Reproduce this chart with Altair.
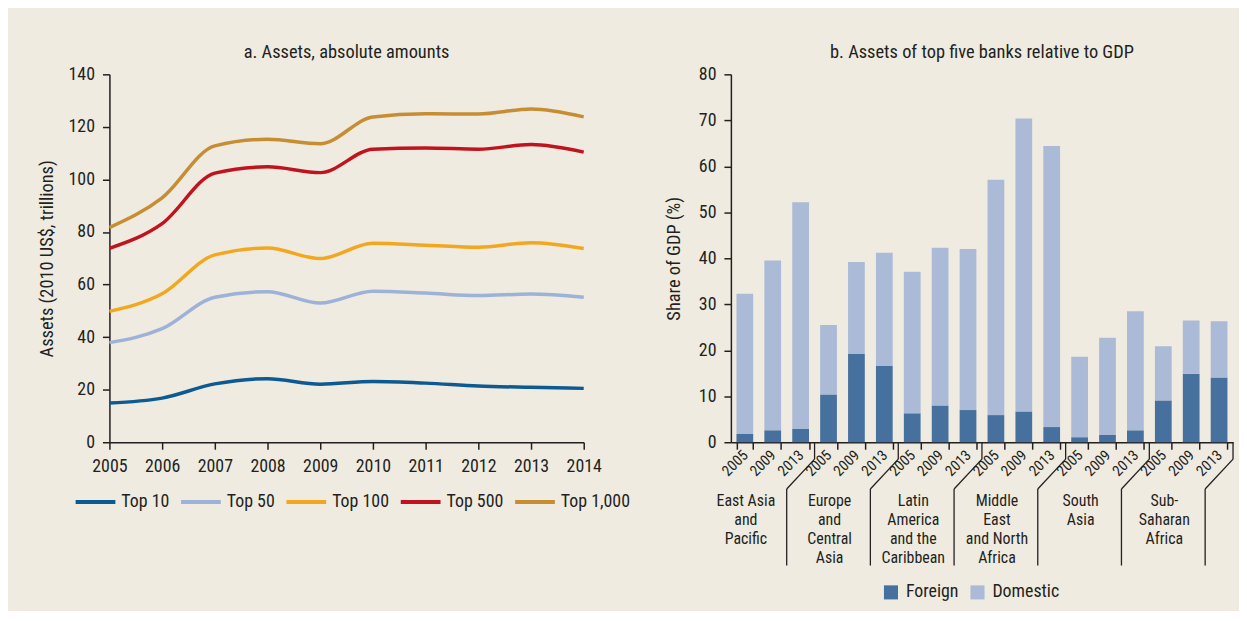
import altair as alt
import pandas as pd

# ---------------- data ----------------
years = [2005, 2006, 2007, 2008, 2009, 2010, 2011, 2012, 2013, 2014]
series_names = ["Top 10", "Top 50", "Top 100", "Top 500", "Top 1,000"]
top10 = [14.9, 16.8, 22.2, 24.2, 22.1, 23.1, 22.5, 21.4, 20.9, 20.5]
top50 = [37.9, 43.2, 55.2, 57.3, 53.0, 57.5, 56.8, 55.8, 56.4, 55.2]
top100 = [49.8, 56.5, 71.3, 73.9, 69.9, 75.7, 75.0, 74.2, 75.9, 73.7]
top500 = [73.8, 83.2, 102.4, 104.8, 102.6, 111.5, 112.0, 111.5, 113.3, 110.4]
top1000 = [81.7, 93.0, 112.8, 115.3, 113.6, 123.8, 125.0, 124.9, 126.8, 123.8]

region_codes = ["EAP", "ECA", "LAC", "MENA", "SA", "SSA"]
region_labels = [
    "East Asia\nand\nPacific",
    "Europe\nand\nCentral\nAsia",
    "Latin\nAmerica\nand the\nCaribbean",
    "Middle\nEast\nand North\nAfrica",
    "South\nAsia",
    "Sub-\nSaharan\nAfrica",
]
bar_years = [2005, 2009, 2013]
total_share = [32.3, 39.5, 52.2, 25.5, 39.2, 41.2, 37.1, 42.3, 42.0,
               57.1, 70.4, 64.4, 18.6, 22.7, 28.5, 20.9, 26.5, 26.3]
foreign_share = [1.8, 2.6, 2.9, 10.4, 19.2, 16.6, 6.3, 8.0, 7.0,
                 5.9, 6.7, 3.3, 1.1, 1.6, 2.6, 9.1, 14.9, 14.1]
parts = ["Foreign", "Domestic"]

# ---------------- style ----------------
FONT = "Roboto Condensed, Liberation Sans Narrow, DejaVu Sans Condensed, sans-serif"
TXT = "#231f20"
BG = "#efebe1"
line_colors = ["#0d5a93", "#9cb2d9", "#f1a81f", "#c1131d", "#c78d33"]
bar_colors = ["#46709e", "#abbad6"]

# ---------------- tables ----------------
series_vals = [top10, top50, top100, top500, top1000]
line_rows = []
for name, vals in zip(series_names, series_vals):
    for yr, v in zip(years, vals):
        line_rows.append({"series": name, "year": yr, "value": v})
line_df = pd.DataFrame(line_rows)

keys = []
bar_rows = []
i = 0
for code in region_codes:
    for yr in bar_years:
        key = f"{code} {yr}"
        keys.append(key)
        f = foreign_share[i]
        d = total_share[i] - foreign_share[i]
        bar_rows.append({"key": key, "part": "Foreign", "value": f, "ord": 0})
        bar_rows.append({"key": key, "part": "Domestic", "value": d, "ord": 1})
        i += 1
bar_df = pd.DataFrame(bar_rows)

grp_df = pd.DataFrame({
    "mid": [f"{c} 2009" for c in region_codes],
    "last": [f"{c} 2013" for c in region_codes],
    "label": region_labels,
})

# ---------------- left panel ----------------
H = 370
left = alt.Chart(line_df).mark_line(interpolate="monotone", strokeWidth=3.5).encode(
    x=alt.X("year:Q",
            scale=alt.Scale(domain=[2005, 2014], nice=False, zero=False),
            axis=alt.Axis(values=years, format="d", title=None, labelPadding=8,
                          labelOverlap=False, labelFlush=False)),
    y=alt.Y("value:Q",
            scale=alt.Scale(domain=[0, 140], nice=False),
            axis=alt.Axis(values=list(range(0, 141, 20)),
                          title="Assets (2010 US$, trillions)", titlePadding=12)),
    color=alt.Color("series:N", sort=series_names,
                    scale=alt.Scale(domain=series_names, range=line_colors),
                    legend=alt.Legend(orient="none", legendX=-36, legendY=408,
                                      direction="horizontal", title=None,
                                      symbolType="stroke", symbolSize=1600,
                                      symbolStrokeWidth=4, labelOffset=4,
                                      columnPadding=3)),
).properties(width=477, height=H,
             title=alt.TitleParams("a. Assets, absolute amounts"))

# ---------------- right panel ----------------
xscale = alt.Scale(domain=keys, paddingInner=0.4, paddingOuter=0.2)
bars = alt.Chart(bar_df).mark_bar().encode(
    x=alt.X("key:N", scale=xscale,
            axis=alt.Axis(title=None, labelExpr="slice(datum.label, -4)",
                          labelAngle=315, labelAlign="right", labelBaseline="middle",
                          labelFontSize=15, labelPadding=3, tickBand="extent",
                          labelOverlap=False)),
    y=alt.Y("value:Q", stack="zero",
            scale=alt.Scale(domain=[0, 80], nice=False),
            axis=alt.Axis(values=list(range(0, 81, 10)),
                          title="Share of GDP (%)", titlePadding=15)),
    color=alt.Color("part:N", sort=parts,
                    scale=alt.Scale(domain=parts, range=bar_colors),
                    legend=alt.Legend(orient="none", legendX=152, legendY=512,
                                      direction="horizontal", title=None,
                                      symbolType="square", symbolSize=200,
                                      symbolStrokeWidth=0, labelOffset=6,
                                      columnPadding=10)),
    order=alt.Order("ord:Q"),
)

div_top = alt.Chart(grp_df).mark_rule(color=TXT, strokeWidth=1.3, xOffset=5.6).encode(
    x=alt.X("last:N", bandPosition=1, title=None),
    y=alt.value(H), y2=alt.value(H + 17))
div_diag = alt.Chart(grp_df).mark_rule(color=TXT, strokeWidth=1.3, xOffset=5.6,
                                        x2Offset=-5.6).encode(
    x=alt.X("last:N", bandPosition=1, title=None),
    x2=alt.X2("last:N", bandPosition=0),
    y=alt.value(H + 17), y2=alt.value(H + 47))
div_low = alt.Chart(grp_df).mark_rule(color=TXT, strokeWidth=1.3, xOffset=-5.6).encode(
    x=alt.X("last:N", bandPosition=0, title=None),
    y=alt.value(H + 47), y2=alt.value(H + 124))
grp_text = alt.Chart(grp_df).mark_text(lineBreak="\n", baseline="top", dx=-27,
                                       fontSize=16, lineHeight=19, font=FONT,
                                       color=TXT).encode(
    x=alt.X("mid:N", title=None),
    y=alt.value(H + 51),
    text="label:N")

right = alt.layer(bars, div_top, div_diag, div_low, grp_text).properties(
    width=505, height=H,
    title=alt.TitleParams("b. Assets of top five banks relative to GDP"))

chart = alt.hconcat(left, right, spacing=34).resolve_scale(
    color="independent").resolve_legend(color="independent").properties(
    background=BG,
    padding={"left": 29, "top": 33, "right": 5, "bottom": 8},
).configure_view(stroke=None).configure_axis(
    labelFont=FONT, labelFontSize=18, labelColor=TXT,
    titleFont=FONT, titleFontSize=18.5, titleFontWeight="normal", titleColor=TXT,
    domainColor=TXT, tickColor=TXT, domainWidth=1.5, tickWidth=1.5,
    tickSize=7, labelPadding=8, grid=False,
).configure_legend(
    labelFont=FONT, labelFontSize=18, labelColor=TXT,
).configure_title(
    font=FONT, fontSize=18.5, fontWeight="normal", color=TXT, anchor="middle", offset=4,
)

chart.save("out.html", embed_options={"renderer": "svg", "actions": False})
